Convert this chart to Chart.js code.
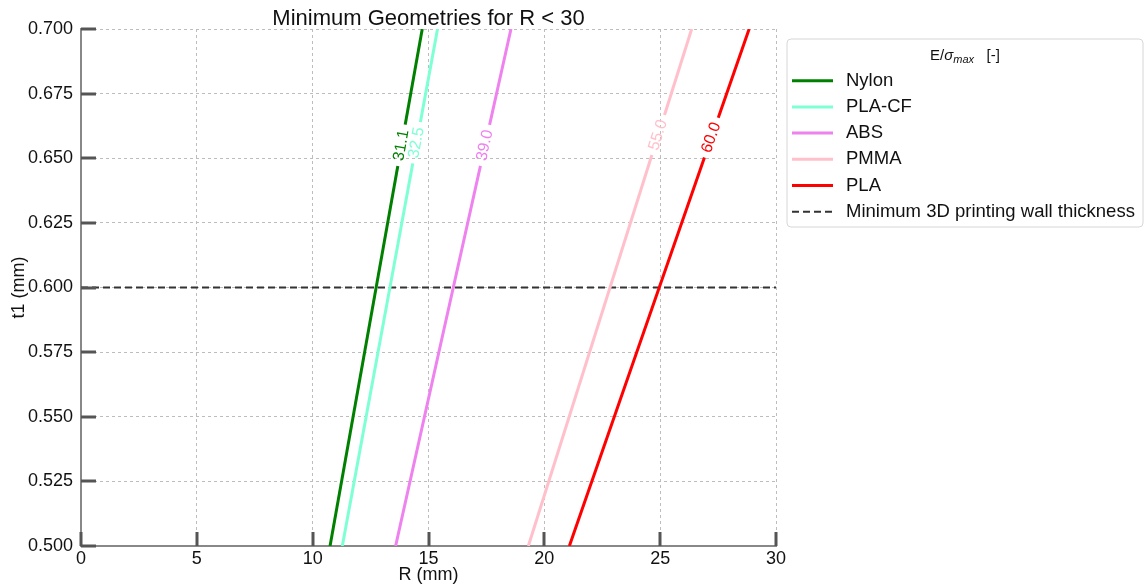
<!DOCTYPE html>
<html>
<head>
<meta charset="utf-8">
<script src="https://cdn.jsdelivr.net/npm/chart.js@4.4.1/dist/chart.umd.min.js"></script>
<style>
  html, body { margin: 0; padding: 0; background: #fff; }
</style>
</head>
<body>
<canvas id="geomChart" width="1145" height="588"></canvas>
<script>
// data
const materials = ['Nylon', 'PLA-CF', 'ABS', 'PMMA', 'PLA'];
const ratioLabels = ['31.1', '32.5', '39.0', '55.0', '60.0'];
const lineColors = ['#008000', '#7fffd4', '#ee82ee', '#ffc0cb', '#ff0000'];
const rAtTmin = [10.75, 11.28, 13.58, 19.31, 21.08];   // R where t1 = 0.5
const rAtTmax = [14.73, 15.39, 18.56, 26.36, 28.84];   // R where t1 = 0.7
const labelT = [0.655, 0.656, 0.655, 0.659, 0.658];    // where the inline label sits
const tRange = [0.5, 0.7];
const rRange = [0, 30];
const minWall = 0.6;
const minWallLabel = 'Minimum 3D printing wall thickness';

const FONT = '"Liberation Sans", Arial, sans-serif';
const TEXT = '#111';

let datasets = materials.map((name, i) => ({
  label: name,
  data: [{x: rAtTmin[i], y: tRange[0]}, {x: rAtTmax[i], y: tRange[1]}],
  borderColor: lineColors[i],
  borderWidth: 3,
  pointRadius: 0,
  fill: false
}));
datasets.push({
  label: minWallLabel,
  data: [{x: rRange[0], y: minWall}, {x: rRange[1], y: minWall}],
  borderColor: '#333',
  borderWidth: 2,
  borderDash: [7, 4],
  pointRadius: 0,
  fill: false
});

// where the rotated number goes on a line (pixel centre + angle)
function labelGeom(chart, i) {
  const xs = chart.scales.x, ys = chart.scales.y;
  const x0 = xs.getPixelForValue(rAtTmin[i]), y0 = ys.getPixelForValue(tRange[0]);
  const x1 = xs.getPixelForValue(rAtTmax[i]), y1 = ys.getPixelForValue(tRange[1]);
  const f = (labelT[i] - tRange[0]) / (tRange[1] - tRange[0]);
  return {cx: x0 + (x1 - x0) * f, cy: y0 + (y1 - y0) * f, a: Math.atan2(y1 - y0, x1 - x0)};
}

const inlineLabels = {
  id: 'inlineLabels',
  beforeDatasetDraw(chart, args) {
    const i = args.index;
    if (i >= materials.length) return;
    const ctx = chart.ctx;
    const g = labelGeom(chart, i);
    const hl = 21, hw = 6;
    const ux = Math.cos(g.a), uy = Math.sin(g.a);
    const vx = -uy, vy = ux;
    ctx.save();
    ctx.beginPath();
    ctx.rect(0, 0, chart.width, chart.height);
    ctx.moveTo(g.cx - ux * hl - vx * hw, g.cy - uy * hl - vy * hw);
    ctx.lineTo(g.cx + ux * hl - vx * hw, g.cy + uy * hl - vy * hw);
    ctx.lineTo(g.cx + ux * hl + vx * hw, g.cy + uy * hl + vy * hw);
    ctx.lineTo(g.cx - ux * hl + vx * hw, g.cy - uy * hl + vy * hw);
    ctx.closePath();
    ctx.clip('evenodd');
  },
  afterDatasetDraw(chart, args) {
    if (args.index >= materials.length) return;
    chart.ctx.restore();
  },
  afterDatasetsDraw(chart) {
    const ctx = chart.ctx;
    materials.forEach((m, i) => {
      const g = labelGeom(chart, i);
      ctx.save();
      ctx.translate(g.cx, g.cy);
      ctx.rotate(g.a);
      ctx.font = '16px ' + FONT;
      ctx.fillStyle = lineColors[i];
      ctx.textAlign = 'center';
      ctx.textBaseline = 'middle';
      ctx.fillText(ratioLabels[i], 0, 0);
      ctx.restore();
    });

    // inward tick marks like the matplotlib ones
    const xs = chart.scales.x, ys = chart.scales.y, area = chart.chartArea;
    ctx.save();
    ctx.strokeStyle = '#555';
    ctx.lineWidth = 3;
    xs.ticks.forEach(t => {
      const px = Math.round(xs.getPixelForValue(t.value));
      ctx.beginPath();
      ctx.moveTo(px, area.bottom);
      ctx.lineTo(px, area.bottom - 14);
      ctx.stroke();
    });
    ys.ticks.forEach(t => {
      const py = Math.round(ys.getPixelForValue(t.value));
      ctx.beginPath();
      ctx.moveTo(area.left, py);
      ctx.lineTo(area.left + 15, py);
      ctx.stroke();
    });
    ctx.restore();
  },
  afterDraw(chart) {
    const ctx = chart.ctx, area = chart.chartArea;
    ctx.save();
    ctx.fillStyle = TEXT;
    // title
    ctx.font = '22px ' + FONT;
    ctx.textAlign = 'center';
    ctx.textBaseline = 'alphabetic';
    ctx.fillText('Minimum Geometries for R < 30', (area.left + area.right) / 2, 25);
    // axis titles
    ctx.font = '18px ' + FONT;
    ctx.textBaseline = 'middle';
    ctx.fillText('R (mm)', (area.left + area.right) / 2, 575);
    ctx.save();
    ctx.translate(19, (area.top + area.bottom) / 2);
    ctx.rotate(-Math.PI / 2);
    ctx.fillText('t1 (mm)', 0, 0);
    ctx.restore();

    // legend box
    const bx = 787, by = 39, bw = 356, bh = 188, r = 4;
    ctx.beginPath();
    ctx.moveTo(bx + r, by);
    ctx.arcTo(bx + bw, by, bx + bw, by + bh, r);
    ctx.arcTo(bx + bw, by + bh, bx, by + bh, r);
    ctx.arcTo(bx, by + bh, bx, by, r);
    ctx.arcTo(bx, by, bx + bw, by, r);
    ctx.closePath();
    ctx.fillStyle = 'rgba(255,255,255,0.85)';
    ctx.fill();
    ctx.strokeStyle = '#d6d6d6';
    ctx.lineWidth = 1;
    ctx.stroke();

    // legend title: E/σ_max [-]
    const parts = [
      {t: 'E/', f: '15px ' + FONT, dy: 0},
      {t: 'σ', f: 'italic 15px ' + FONT, dy: 0},
      {t: 'max', f: 'italic 11px ' + FONT, dy: 3},
      {t: '   [-]', f: '15px ' + FONT, dy: 0}
    ];
    let tw = 0;
    parts.forEach(p => { ctx.font = p.f; tw += ctx.measureText(p.t).width; });
    let tx = 965 - tw / 2;
    ctx.fillStyle = TEXT;
    ctx.textAlign = 'left';
    ctx.textBaseline = 'alphabetic';
    parts.forEach(p => {
      ctx.font = p.f;
      ctx.fillText(p.t, tx, 60 + p.dy);
      tx += ctx.measureText(p.t).width;
    });

    // legend rows
    chart.data.datasets.forEach((ds, i) => {
      const y = 80.7 + i * 26.2;
      ctx.beginPath();
      ctx.setLineDash(ds.borderDash || []);
      ctx.strokeStyle = ds.borderColor;
      ctx.lineWidth = ds.borderWidth;
      ctx.moveTo(792, y);
      ctx.lineTo(833, y);
      ctx.stroke();
      ctx.setLineDash([]);
      ctx.fillStyle = TEXT;
      ctx.font = '18.5px ' + FONT;
      ctx.textBaseline = 'middle';
      ctx.fillText(ds.label, 846, y);
    });
    ctx.restore();
  }
};

new Chart(document.getElementById('geomChart').getContext('2d'), {
  type: 'line',
  data: { datasets: datasets },
  plugins: [inlineLabels],
  options: {
    responsive: false,
    animation: false,
    devicePixelRatio: 1,
    layout: { padding: { top: 29, right: 369, left: 0, bottom: 0 } },
    plugins: {
      legend: { display: false },
      title: { display: false },
      tooltip: { enabled: false }
    },
    scales: {
      x: {
        type: 'linear',
        min: rRange[0],
        max: rRange[1],
        afterFit(scale) { scale.height = 42; },
        ticks: {
          stepSize: 5,
          color: TEXT,
          padding: 2,
          font: { family: FONT, size: 18 }
        },
        grid: { color: '#bdbdbd', lineWidth: 1, drawTicks: false },
        border: { color: '#888', width: 2, dash: [3, 3] }
      },
      y: {
        type: 'linear',
        min: tRange[0],
        max: tRange[1],
        afterFit(scale) { scale.width = 81; },
        ticks: {
          stepSize: 0.025,
          color: TEXT,
          padding: 8,
          font: { family: FONT, size: 18 },
          callback: v => v.toFixed(3)
        },
        grid: { color: '#bdbdbd', lineWidth: 1, drawTicks: false },
        border: { color: '#888', width: 2, dash: [3, 3] }
      }
    }
  }
});
</script>
</body>
</html>
